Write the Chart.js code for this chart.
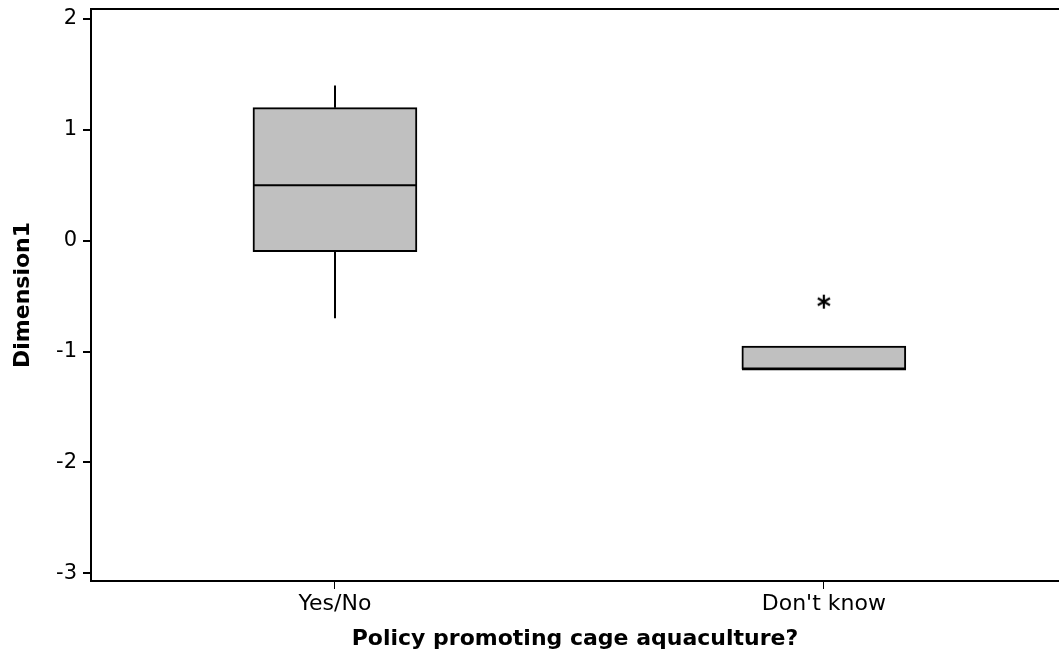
<!DOCTYPE html>
<html>
<head>
<meta charset="utf-8">
<script src="https://cdn.jsdelivr.net/npm/chart.js@4/dist/chart.umd.min.js"></script>
<style>
  body { margin: 0; background: #fff; }
  canvas { display: block; }
</style>
</head>
<body>
<canvas id="boxChart" width="1059" height="657"></canvas>
<script>
// data
const categories = ['Yes/No', "Don't know"];
const catPos = [1, 2];
const q1 = [-0.1, -1.16];
const median = [0.5, -1.16];
const q3 = [1.2, -0.95];
const whiskerLow = [-0.7, -1.16];
const whiskerHigh = [1.4, -0.95];
const outliers = [[], [-0.55]];
const yTicks = [-3, -2, -1, 0, 1, 2];

const FONT = "'DejaVu Sans', sans-serif";

// asterisk marker for outliers
function makeStar() {
    const c = document.createElement('canvas');
    c.width = 18; c.height = 18;
    const g = c.getContext('2d');
    g.strokeStyle = '#000';
    g.lineWidth = 2.2;
    g.beginPath();
    for (let i = 0; i < 3; i++) {
        const a = Math.PI / 2 + i * Math.PI / 3;
        g.moveTo(9 - 7 * Math.cos(a), 9 - 7 * Math.sin(a));
        g.lineTo(9 + 7 * Math.cos(a), 9 + 7 * Math.sin(a));
    }
    g.stroke();
    return c;
}

// whiskers, medians and the top frame line
const boxExtras = {
    id: 'boxExtras',
    afterDatasetsDraw(chart) {
        const ctx = chart.ctx;
        const xs = chart.scales.x, ys = chart.scales.y;
        const half = 82;
        ctx.save();
        ctx.strokeStyle = '#000';
        ctx.lineWidth = 2;
        catPos.forEach(function(p, i) {
            const cx = Math.round(xs.getPixelForValue(p));
            ctx.beginPath();
            ctx.moveTo(cx, ys.getPixelForValue(q3[i]));
            ctx.lineTo(cx, ys.getPixelForValue(whiskerHigh[i]));
            ctx.moveTo(cx, ys.getPixelForValue(q1[i]));
            ctx.lineTo(cx, ys.getPixelForValue(whiskerLow[i]));
            const my = ys.getPixelForValue(median[i]);
            ctx.moveTo(cx - half, my);
            ctx.lineTo(cx + half, my);
            ctx.stroke();
        });
        const a = chart.chartArea;
        ctx.beginPath();
        ctx.moveTo(a.left, a.top);
        ctx.lineTo(a.right, a.top);
        ctx.stroke();
        ctx.restore();
    }
};

const outlierPoints = [];
outliers.forEach(function(list, i) {
    list.forEach(function(v) { outlierPoints.push({ x: catPos[i], y: v }); });
});

new Chart(document.getElementById('boxChart'), {
    type: 'bar',
    data: {
        datasets: [{
            label: 'box',
            data: catPos.map(function(p, i) { return { x: p, y: [q1[i], q3[i]] }; }),
            backgroundColor: '#c0c0c0',
            borderColor: '#000',
            borderWidth: 2,
            borderSkipped: false,
            barThickness: 164
        }, {
            type: 'scatter',
            label: 'outliers',
            data: outlierPoints,
            pointStyle: makeStar(),
            pointRadius: 9
        }]
    },
    options: {
        responsive: false,
        animation: false,
        layout: { autoPadding: false, padding: { left: 0, top: 9, right: 0, bottom: 0 } },
        plugins: {
            legend: { display: false },
            tooltip: { enabled: false }
        },
        scales: {
            x: {
                type: 'linear',
                offset: false,
                min: 0.501,
                max: 2.481,
                afterBuildTicks: function(scale) {
                    scale.ticks = catPos.map(function(v) { return { value: v }; });
                },
                afterFit: function(scale) {
                    scale.height = 76;
                    scale.paddingLeft = 0;
                    scale.paddingRight = 0;
                },
                ticks: {
                    color: '#000',
                    font: { family: FONT, size: 22 },
                    padding: 2,
                    maxRotation: 0,
                    callback: function(v) {
                        const i = catPos.indexOf(v);
                        return i >= 0 ? categories[i] : '';
                    }
                },
                grid: { offset: false, drawOnChartArea: false, drawTicks: true, tickLength: 8, color: '#000', lineWidth: 1 },
                border: { display: true, color: '#000', width: 2 },
                title: {
                    display: true,
                    text: 'Policy promoting cage aquaculture?',
                    color: '#000',
                    font: { family: FONT, size: 22, weight: 'bold' },
                    padding: { top: 0, bottom: 5 }
                }
            },
            y: {
                min: -3.07,
                max: 2.09,
                afterBuildTicks: function(scale) {
                    scale.ticks = yTicks.map(function(v) { return { value: v }; });
                },
                afterFit: function(scale) {
                    scale.width = 91;
                    scale.paddingTop = 0;
                    scale.paddingBottom = 0;
                },
                ticks: {
                    color: '#000',
                    font: { family: FONT, size: 21 },
                    padding: 6
                },
                grid: { drawOnChartArea: false, drawTicks: true, tickLength: 8, color: '#000', lineWidth: 2 },
                border: { display: true, color: '#000', width: 2 },
                title: {
                    display: true,
                    text: 'Dimension1',
                    color: '#000',
                    font: { family: FONT, size: 22, weight: 'bold' },
                    padding: { top: 10, bottom: 0 }
                }
            }
        }
    },
    plugins: [boxExtras]
});
</script>
</body>
</html>
